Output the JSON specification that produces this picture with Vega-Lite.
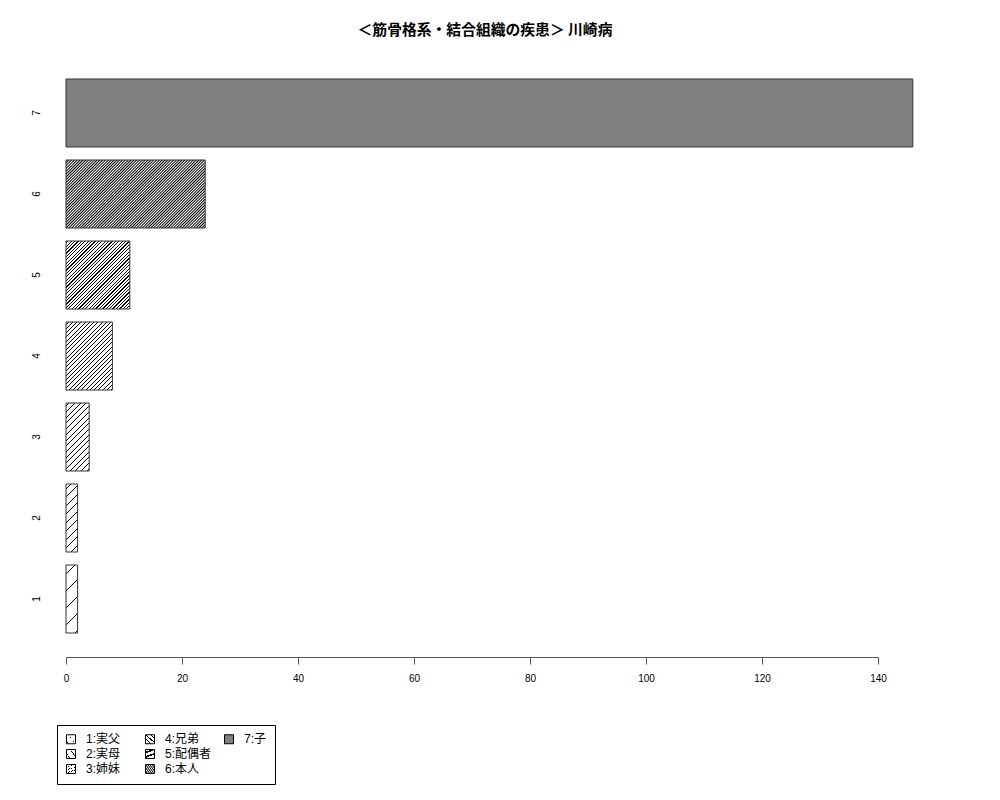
{
  "$schema": "https://vega.github.io/schema/vega-lite/v6.json",
  "width": 812,
  "height": 602,
  "autosize": {"type": "none"},
  "padding": {"left": 66, "top": 55, "right": 122, "bottom": 143},
  "background": "white",
  "title": {
    "text": "＜筋骨格系・結合組織の疾患＞ 川崎病",
    "font": "Noto Sans CJK JP",
    "fontSize": 14.8,
    "fontWeight": "bold",
    "color": "black",
    "anchor": "middle",
    "frame": "group",
    "offset": 17,
    "dx": 13
  },
  "data": {
    "values": [
      {"id": "1", "label": "1:実父", "count": 2},
      {"id": "2", "label": "2:実母", "count": 2},
      {"id": "3", "label": "3:姉妹", "count": 4},
      {"id": "4", "label": "4:兄弟", "count": 8},
      {"id": "5", "label": "5:配偶者", "count": 11},
      {"id": "6", "label": "6:本人", "count": 24},
      {"id": "7", "label": "7:子", "count": 146}
    ]
  },
  "mark": {"type": "bar", "stroke": "#333", "strokeWidth": 1},
  "encoding": {
    "y": {
      "field": "id",
      "type": "nominal",
      "sort": ["7", "6", "5", "4", "3", "2", "1"],
      "scale": {"paddingInner": 0.160494, "paddingOuter": 0.296296},
      "axis": {
        "title": null,
        "domain": false,
        "ticks": false,
        "tickSize": 0,
        "grid": false,
        "labelAngle": -90,
        "labelAlign": "center",
        "labelBaseline": "bottom",
        "labelPadding": 25,
        "labelFontSize": 10,
        "labelColor": "black",
        "labelFont": "Liberation Sans"
      }
    },
    "x": {
      "field": "count",
      "type": "quantitative",
      "stack": null,
      "scale": {"domain": [0, 140], "nice": false},
      "axis": {
        "title": null,
        "values": [0, 20, 40, 60, 80, 100, 120, 140],
        "grid": false,
        "tickSize": 7,
        "tickColor": "#555",
        "domainColor": "#555",
        "labelPadding": 9,
        "labelFontSize": 10,
        "labelColor": "black",
        "labelFont": "Liberation Sans",
        "labelFlush": false,
        "labelOverlap": false
      }
    },
    "fill": {
      "field": "label",
      "type": "nominal",
      "scale": {
        "domain": ["1:実父", "2:実母", "3:姉妹", "4:兄弟", "5:配偶者", "6:本人", "7:子", ""],
        "range": [
          {"expr": "{gradient:'linear',x1:0,y1:0,x2:0.2072,y2:1.2147,stops:[{offset:0,color:'#fff'},{offset:0.1,color:'#fff'},{offset:0.1,color:'#000'},{offset:0.1118,color:'#000'},{offset:0.1118,color:'#fff'},{offset:0.3,color:'#fff'},{offset:0.3,color:'#000'},{offset:0.3118,color:'#000'},{offset:0.3118,color:'#fff'},{offset:0.5,color:'#fff'},{offset:0.5,color:'#000'},{offset:0.5118,color:'#000'},{offset:0.5118,color:'#fff'},{offset:0.7,color:'#fff'},{offset:0.7,color:'#000'},{offset:0.7118,color:'#000'},{offset:0.7118,color:'#fff'},{offset:0.9,color:'#fff'},{offset:0.9,color:'#000'},{offset:0.9118,color:'#000'},{offset:0.9118,color:'#fff'},{offset:1,color:'#fff'}]}"},
          {"expr": "{gradient:'linear',x1:0,y1:0,x2:0.2072,y2:1.2147,stops:[{offset:0,color:'#fff'},{offset:0.05,color:'#fff'},{offset:0.05,color:'#000'},{offset:0.0618,color:'#000'},{offset:0.0618,color:'#fff'},{offset:0.15,color:'#fff'},{offset:0.15,color:'#000'},{offset:0.1618,color:'#000'},{offset:0.1618,color:'#fff'},{offset:0.25,color:'#fff'},{offset:0.25,color:'#000'},{offset:0.2618,color:'#000'},{offset:0.2618,color:'#fff'},{offset:0.35,color:'#fff'},{offset:0.35,color:'#000'},{offset:0.3618,color:'#000'},{offset:0.3618,color:'#fff'},{offset:0.45,color:'#fff'},{offset:0.45,color:'#000'},{offset:0.4618,color:'#000'},{offset:0.4618,color:'#fff'},{offset:0.55,color:'#fff'},{offset:0.55,color:'#000'},{offset:0.5618,color:'#000'},{offset:0.5618,color:'#fff'},{offset:0.65,color:'#fff'},{offset:0.65,color:'#000'},{offset:0.6618,color:'#000'},{offset:0.6618,color:'#fff'},{offset:0.75,color:'#fff'},{offset:0.75,color:'#000'},{offset:0.7618,color:'#000'},{offset:0.7618,color:'#fff'},{offset:0.85,color:'#fff'},{offset:0.85,color:'#000'},{offset:0.8618,color:'#000'},{offset:0.8618,color:'#fff'},{offset:0.95,color:'#fff'},{offset:0.95,color:'#000'},{offset:0.9618,color:'#000'},{offset:0.9618,color:'#fff'},{offset:1,color:'#fff'}]}"},
          {"expr": "{gradient:'linear',x1:0,y1:0,x2:0.4099,y2:1.2013,stops:[{offset:0,color:'#fff'},{offset:0.0313,color:'#fff'},{offset:0.0313,color:'#000'},{offset:0.0423,color:'#000'},{offset:0.0423,color:'#fff'},{offset:0.0938,color:'#fff'},{offset:0.0938,color:'#000'},{offset:0.1048,color:'#000'},{offset:0.1048,color:'#fff'},{offset:0.1563,color:'#fff'},{offset:0.1563,color:'#000'},{offset:0.1673,color:'#000'},{offset:0.1673,color:'#fff'},{offset:0.2188,color:'#fff'},{offset:0.2188,color:'#000'},{offset:0.2298,color:'#000'},{offset:0.2298,color:'#fff'},{offset:0.2813,color:'#fff'},{offset:0.2813,color:'#000'},{offset:0.2923,color:'#000'},{offset:0.2923,color:'#fff'},{offset:0.3438,color:'#fff'},{offset:0.3438,color:'#000'},{offset:0.3548,color:'#000'},{offset:0.3548,color:'#fff'},{offset:0.4063,color:'#fff'},{offset:0.4063,color:'#000'},{offset:0.4173,color:'#000'},{offset:0.4173,color:'#fff'},{offset:0.4688,color:'#fff'},{offset:0.4688,color:'#000'},{offset:0.4798,color:'#000'},{offset:0.4798,color:'#fff'},{offset:0.5313,color:'#fff'},{offset:0.5313,color:'#000'},{offset:0.5423,color:'#000'},{offset:0.5423,color:'#fff'},{offset:0.5938,color:'#fff'},{offset:0.5938,color:'#000'},{offset:0.6048,color:'#000'},{offset:0.6048,color:'#fff'},{offset:0.6563,color:'#fff'},{offset:0.6563,color:'#000'},{offset:0.6673,color:'#000'},{offset:0.6673,color:'#fff'},{offset:0.7188,color:'#fff'},{offset:0.7188,color:'#000'},{offset:0.7298,color:'#000'},{offset:0.7298,color:'#fff'},{offset:0.7813,color:'#fff'},{offset:0.7813,color:'#000'},{offset:0.7923,color:'#000'},{offset:0.7923,color:'#fff'},{offset:0.8438,color:'#fff'},{offset:0.8438,color:'#000'},{offset:0.8548,color:'#000'},{offset:0.8548,color:'#fff'},{offset:0.9063,color:'#fff'},{offset:0.9063,color:'#000'},{offset:0.9173,color:'#000'},{offset:0.9173,color:'#fff'},{offset:0.9688,color:'#fff'},{offset:0.9688,color:'#000'},{offset:0.9798,color:'#000'},{offset:0.9798,color:'#fff'},{offset:1,color:'#fff'}]}"},
          {"expr": "{gradient:'linear',x1:0,y1:0,x2:0.7857,y2:1.1514,stops:[{offset:0,color:'#fff'},{offset:0.0185,color:'#fff'},{offset:0.0185,color:'#000'},{offset:0.0272,color:'#000'},{offset:0.0272,color:'#fff'},{offset:0.0556,color:'#fff'},{offset:0.0556,color:'#000'},{offset:0.0643,color:'#000'},{offset:0.0643,color:'#fff'},{offset:0.0926,color:'#fff'},{offset:0.0926,color:'#000'},{offset:0.1013,color:'#000'},{offset:0.1013,color:'#fff'},{offset:0.1296,color:'#fff'},{offset:0.1296,color:'#000'},{offset:0.1383,color:'#000'},{offset:0.1383,color:'#fff'},{offset:0.1667,color:'#fff'},{offset:0.1667,color:'#000'},{offset:0.1754,color:'#000'},{offset:0.1754,color:'#fff'},{offset:0.2037,color:'#fff'},{offset:0.2037,color:'#000'},{offset:0.2124,color:'#000'},{offset:0.2124,color:'#fff'},{offset:0.2407,color:'#fff'},{offset:0.2407,color:'#000'},{offset:0.2494,color:'#000'},{offset:0.2494,color:'#fff'},{offset:0.2778,color:'#fff'},{offset:0.2778,color:'#000'},{offset:0.2865,color:'#000'},{offset:0.2865,color:'#fff'},{offset:0.3148,color:'#fff'},{offset:0.3148,color:'#000'},{offset:0.3235,color:'#000'},{offset:0.3235,color:'#fff'},{offset:0.3519,color:'#fff'},{offset:0.3519,color:'#000'},{offset:0.3606,color:'#000'},{offset:0.3606,color:'#fff'},{offset:0.3889,color:'#fff'},{offset:0.3889,color:'#000'},{offset:0.3976,color:'#000'},{offset:0.3976,color:'#fff'},{offset:0.4259,color:'#fff'},{offset:0.4259,color:'#000'},{offset:0.4346,color:'#000'},{offset:0.4346,color:'#fff'},{offset:0.463,color:'#fff'},{offset:0.463,color:'#000'},{offset:0.4717,color:'#000'},{offset:0.4717,color:'#fff'},{offset:0.5,color:'#fff'},{offset:0.5,color:'#000'},{offset:0.5087,color:'#000'},{offset:0.5087,color:'#fff'},{offset:0.537,color:'#fff'},{offset:0.537,color:'#000'},{offset:0.5457,color:'#000'},{offset:0.5457,color:'#fff'},{offset:0.5741,color:'#fff'},{offset:0.5741,color:'#000'},{offset:0.5828,color:'#000'},{offset:0.5828,color:'#fff'},{offset:0.6111,color:'#fff'},{offset:0.6111,color:'#000'},{offset:0.6198,color:'#000'},{offset:0.6198,color:'#fff'},{offset:0.6481,color:'#fff'},{offset:0.6481,color:'#000'},{offset:0.6569,color:'#000'},{offset:0.6569,color:'#fff'},{offset:0.6852,color:'#fff'},{offset:0.6852,color:'#000'},{offset:0.6939,color:'#000'},{offset:0.6939,color:'#fff'},{offset:0.7222,color:'#fff'},{offset:0.7222,color:'#000'},{offset:0.7309,color:'#000'},{offset:0.7309,color:'#fff'},{offset:0.7593,color:'#fff'},{offset:0.7593,color:'#000'},{offset:0.768,color:'#000'},{offset:0.768,color:'#fff'},{offset:0.7963,color:'#fff'},{offset:0.7963,color:'#000'},{offset:0.805,color:'#000'},{offset:0.805,color:'#fff'},{offset:0.8333,color:'#fff'},{offset:0.8333,color:'#000'},{offset:0.842,color:'#000'},{offset:0.842,color:'#fff'},{offset:0.8704,color:'#fff'},{offset:0.8704,color:'#000'},{offset:0.8791,color:'#000'},{offset:0.8791,color:'#fff'},{offset:0.9074,color:'#fff'},{offset:0.9074,color:'#000'},{offset:0.9161,color:'#000'},{offset:0.9161,color:'#fff'},{offset:0.9444,color:'#fff'},{offset:0.9444,color:'#000'},{offset:0.9531,color:'#000'},{offset:0.9531,color:'#fff'},{offset:0.9815,color:'#fff'},{offset:0.9815,color:'#000'},{offset:0.9902,color:'#000'},{offset:0.9902,color:'#fff'},{offset:1,color:'#fff'}]}"},
          {"expr": "{gradient:'linear',x1:0,y1:0,x2:0.973,y2:1.0371,stops:[{offset:0,color:'#fff'},{offset:0.0128,color:'#fff'},{offset:0.0128,color:'#000'},{offset:0.0226,color:'#000'},{offset:0.0226,color:'#fff'},{offset:0.0385,color:'#fff'},{offset:0.0385,color:'#000'},{offset:0.0483,color:'#000'},{offset:0.0483,color:'#fff'},{offset:0.0641,color:'#fff'},{offset:0.0641,color:'#000'},{offset:0.0739,color:'#000'},{offset:0.0739,color:'#fff'},{offset:0.0897,color:'#fff'},{offset:0.0897,color:'#000'},{offset:0.0995,color:'#000'},{offset:0.0995,color:'#fff'},{offset:0.1154,color:'#fff'},{offset:0.1154,color:'#000'},{offset:0.1252,color:'#000'},{offset:0.1252,color:'#fff'},{offset:0.141,color:'#fff'},{offset:0.141,color:'#000'},{offset:0.1508,color:'#000'},{offset:0.1508,color:'#fff'},{offset:0.1667,color:'#fff'},{offset:0.1667,color:'#000'},{offset:0.1765,color:'#000'},{offset:0.1765,color:'#fff'},{offset:0.1923,color:'#fff'},{offset:0.1923,color:'#000'},{offset:0.2021,color:'#000'},{offset:0.2021,color:'#fff'},{offset:0.2179,color:'#fff'},{offset:0.2179,color:'#000'},{offset:0.2278,color:'#000'},{offset:0.2278,color:'#fff'},{offset:0.2436,color:'#fff'},{offset:0.2436,color:'#000'},{offset:0.2534,color:'#000'},{offset:0.2534,color:'#fff'},{offset:0.2692,color:'#fff'},{offset:0.2692,color:'#000'},{offset:0.279,color:'#000'},{offset:0.279,color:'#fff'},{offset:0.2949,color:'#fff'},{offset:0.2949,color:'#000'},{offset:0.3047,color:'#000'},{offset:0.3047,color:'#fff'},{offset:0.3205,color:'#fff'},{offset:0.3205,color:'#000'},{offset:0.3303,color:'#000'},{offset:0.3303,color:'#fff'},{offset:0.3462,color:'#fff'},{offset:0.3462,color:'#000'},{offset:0.356,color:'#000'},{offset:0.356,color:'#fff'},{offset:0.3718,color:'#fff'},{offset:0.3718,color:'#000'},{offset:0.3816,color:'#000'},{offset:0.3816,color:'#fff'},{offset:0.3974,color:'#fff'},{offset:0.3974,color:'#000'},{offset:0.4072,color:'#000'},{offset:0.4072,color:'#fff'},{offset:0.4231,color:'#fff'},{offset:0.4231,color:'#000'},{offset:0.4329,color:'#000'},{offset:0.4329,color:'#fff'},{offset:0.4487,color:'#fff'},{offset:0.4487,color:'#000'},{offset:0.4585,color:'#000'},{offset:0.4585,color:'#fff'},{offset:0.4744,color:'#fff'},{offset:0.4744,color:'#000'},{offset:0.4842,color:'#000'},{offset:0.4842,color:'#fff'},{offset:0.5,color:'#fff'},{offset:0.5,color:'#000'},{offset:0.5098,color:'#000'},{offset:0.5098,color:'#fff'},{offset:0.5256,color:'#fff'},{offset:0.5256,color:'#000'},{offset:0.5354,color:'#000'},{offset:0.5354,color:'#fff'},{offset:0.5513,color:'#fff'},{offset:0.5513,color:'#000'},{offset:0.5611,color:'#000'},{offset:0.5611,color:'#fff'},{offset:0.5769,color:'#fff'},{offset:0.5769,color:'#000'},{offset:0.5867,color:'#000'},{offset:0.5867,color:'#fff'},{offset:0.6026,color:'#fff'},{offset:0.6026,color:'#000'},{offset:0.6124,color:'#000'},{offset:0.6124,color:'#fff'},{offset:0.6282,color:'#fff'},{offset:0.6282,color:'#000'},{offset:0.638,color:'#000'},{offset:0.638,color:'#fff'},{offset:0.6538,color:'#fff'},{offset:0.6538,color:'#000'},{offset:0.6636,color:'#000'},{offset:0.6636,color:'#fff'},{offset:0.6795,color:'#fff'},{offset:0.6795,color:'#000'},{offset:0.6893,color:'#000'},{offset:0.6893,color:'#fff'},{offset:0.7051,color:'#fff'},{offset:0.7051,color:'#000'},{offset:0.7149,color:'#000'},{offset:0.7149,color:'#fff'},{offset:0.7308,color:'#fff'},{offset:0.7308,color:'#000'},{offset:0.7406,color:'#000'},{offset:0.7406,color:'#fff'},{offset:0.7564,color:'#fff'},{offset:0.7564,color:'#000'},{offset:0.7662,color:'#000'},{offset:0.7662,color:'#fff'},{offset:0.7821,color:'#fff'},{offset:0.7821,color:'#000'},{offset:0.7919,color:'#000'},{offset:0.7919,color:'#fff'},{offset:0.8077,color:'#fff'},{offset:0.8077,color:'#000'},{offset:0.8175,color:'#000'},{offset:0.8175,color:'#fff'},{offset:0.8333,color:'#fff'},{offset:0.8333,color:'#000'},{offset:0.8431,color:'#000'},{offset:0.8431,color:'#fff'},{offset:0.859,color:'#fff'},{offset:0.859,color:'#000'},{offset:0.8688,color:'#000'},{offset:0.8688,color:'#fff'},{offset:0.8846,color:'#fff'},{offset:0.8846,color:'#000'},{offset:0.8944,color:'#000'},{offset:0.8944,color:'#fff'},{offset:0.9103,color:'#fff'},{offset:0.9103,color:'#000'},{offset:0.9201,color:'#000'},{offset:0.9201,color:'#fff'},{offset:0.9359,color:'#fff'},{offset:0.9359,color:'#000'},{offset:0.9457,color:'#000'},{offset:0.9457,color:'#fff'},{offset:0.9615,color:'#fff'},{offset:0.9615,color:'#000'},{offset:0.9713,color:'#000'},{offset:0.9713,color:'#fff'},{offset:0.9872,color:'#fff'},{offset:0.9872,color:'#000'},{offset:0.997,color:'#000'},{offset:0.997,color:'#fff'},{offset:1,color:'#fff'}]}"},
          {"expr": "{gradient:'linear',x1:0,y1:0,x2:1.2145,y2:0.5933,stops:[{offset:0,color:'#000'},{offset:0.0068,color:'#fff'},{offset:0.0135,color:'#000'},{offset:0.0203,color:'#fff'},{offset:0.027,color:'#000'},{offset:0.0338,color:'#fff'},{offset:0.0405,color:'#000'},{offset:0.0473,color:'#fff'},{offset:0.0541,color:'#000'},{offset:0.0608,color:'#fff'},{offset:0.0676,color:'#000'},{offset:0.0743,color:'#fff'},{offset:0.0811,color:'#000'},{offset:0.0878,color:'#fff'},{offset:0.0946,color:'#000'},{offset:0.1014,color:'#fff'},{offset:0.1081,color:'#000'},{offset:0.1149,color:'#fff'},{offset:0.1216,color:'#000'},{offset:0.1284,color:'#fff'},{offset:0.1351,color:'#000'},{offset:0.1419,color:'#fff'},{offset:0.1486,color:'#000'},{offset:0.1554,color:'#fff'},{offset:0.1622,color:'#000'},{offset:0.1689,color:'#fff'},{offset:0.1757,color:'#000'},{offset:0.1824,color:'#fff'},{offset:0.1892,color:'#000'},{offset:0.1959,color:'#fff'},{offset:0.2027,color:'#000'},{offset:0.2095,color:'#fff'},{offset:0.2162,color:'#000'},{offset:0.223,color:'#fff'},{offset:0.2297,color:'#000'},{offset:0.2365,color:'#fff'},{offset:0.2432,color:'#000'},{offset:0.25,color:'#fff'},{offset:0.2568,color:'#000'},{offset:0.2635,color:'#fff'},{offset:0.2703,color:'#000'},{offset:0.277,color:'#fff'},{offset:0.2838,color:'#000'},{offset:0.2905,color:'#fff'},{offset:0.2973,color:'#000'},{offset:0.3041,color:'#fff'},{offset:0.3108,color:'#000'},{offset:0.3176,color:'#fff'},{offset:0.3243,color:'#000'},{offset:0.3311,color:'#fff'},{offset:0.3378,color:'#000'},{offset:0.3446,color:'#fff'},{offset:0.3514,color:'#000'},{offset:0.3581,color:'#fff'},{offset:0.3649,color:'#000'},{offset:0.3716,color:'#fff'},{offset:0.3784,color:'#000'},{offset:0.3851,color:'#fff'},{offset:0.3919,color:'#000'},{offset:0.3986,color:'#fff'},{offset:0.4054,color:'#000'},{offset:0.4122,color:'#fff'},{offset:0.4189,color:'#000'},{offset:0.4257,color:'#fff'},{offset:0.4324,color:'#000'},{offset:0.4392,color:'#fff'},{offset:0.4459,color:'#000'},{offset:0.4527,color:'#fff'},{offset:0.4595,color:'#000'},{offset:0.4662,color:'#fff'},{offset:0.473,color:'#000'},{offset:0.4797,color:'#fff'},{offset:0.4865,color:'#000'},{offset:0.4932,color:'#fff'},{offset:0.5,color:'#000'},{offset:0.5068,color:'#fff'},{offset:0.5135,color:'#000'},{offset:0.5203,color:'#fff'},{offset:0.527,color:'#000'},{offset:0.5338,color:'#fff'},{offset:0.5405,color:'#000'},{offset:0.5473,color:'#fff'},{offset:0.5541,color:'#000'},{offset:0.5608,color:'#fff'},{offset:0.5676,color:'#000'},{offset:0.5743,color:'#fff'},{offset:0.5811,color:'#000'},{offset:0.5878,color:'#fff'},{offset:0.5946,color:'#000'},{offset:0.6014,color:'#fff'},{offset:0.6081,color:'#000'},{offset:0.6149,color:'#fff'},{offset:0.6216,color:'#000'},{offset:0.6284,color:'#fff'},{offset:0.6351,color:'#000'},{offset:0.6419,color:'#fff'},{offset:0.6486,color:'#000'},{offset:0.6554,color:'#fff'},{offset:0.6622,color:'#000'},{offset:0.6689,color:'#fff'},{offset:0.6757,color:'#000'},{offset:0.6824,color:'#fff'},{offset:0.6892,color:'#000'},{offset:0.6959,color:'#fff'},{offset:0.7027,color:'#000'},{offset:0.7095,color:'#fff'},{offset:0.7162,color:'#000'},{offset:0.723,color:'#fff'},{offset:0.7297,color:'#000'},{offset:0.7365,color:'#fff'},{offset:0.7432,color:'#000'},{offset:0.75,color:'#fff'},{offset:0.7568,color:'#000'},{offset:0.7635,color:'#fff'},{offset:0.7703,color:'#000'},{offset:0.777,color:'#fff'},{offset:0.7838,color:'#000'},{offset:0.7905,color:'#fff'},{offset:0.7973,color:'#000'},{offset:0.8041,color:'#fff'},{offset:0.8108,color:'#000'},{offset:0.8176,color:'#fff'},{offset:0.8243,color:'#000'},{offset:0.8311,color:'#fff'},{offset:0.8378,color:'#000'},{offset:0.8446,color:'#fff'},{offset:0.8514,color:'#000'},{offset:0.8581,color:'#fff'},{offset:0.8649,color:'#000'},{offset:0.8716,color:'#fff'},{offset:0.8784,color:'#000'},{offset:0.8851,color:'#fff'},{offset:0.8919,color:'#000'},{offset:0.8986,color:'#fff'},{offset:0.9054,color:'#000'},{offset:0.9122,color:'#fff'},{offset:0.9189,color:'#000'},{offset:0.9257,color:'#fff'},{offset:0.9324,color:'#000'},{offset:0.9392,color:'#fff'},{offset:0.9459,color:'#000'},{offset:0.9527,color:'#fff'},{offset:0.9595,color:'#000'},{offset:0.9662,color:'#fff'},{offset:0.973,color:'#000'},{offset:0.9797,color:'#fff'},{offset:0.9865,color:'#000'},{offset:0.9932,color:'#fff'},{offset:1,color:'#000'}]}"},
          "#808080",
          "transparent"
        ]
      },
      "legend": {
        "orient": "none",
        "legendX": -9,
        "legendY": 670,
        "title": null,
        "direction": "vertical",
        "columns": 3,
        "gridAlign": "all",
        "columnPadding": 10,
        "rowPadding": 1,
        "symbolType": "square",
        "symbolSize": 81,
        "symbolStrokeColor": "black",
        "symbolStrokeWidth": 1,
        "labelFontSize": 12,
        "labelFont": "Liberation Sans, Noto Sans CJK JP",
        "labelColor": "black",
        "labelOffset": 9,
        "strokeColor": "black",
        "fillColor": "white",
        "padding": 8,
        "encode": {
          "symbols": {"update": {"opacity": {"signal": "datum.value === '' ? 0 : 1"}}}
        }
      }
    }
  },
  "config": {"view": {"stroke": null}}
}
